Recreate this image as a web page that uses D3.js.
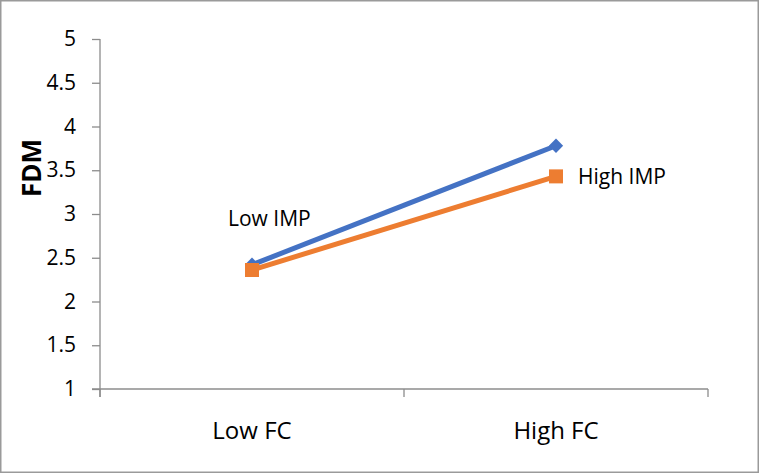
<!DOCTYPE html>
<html>
<head>
<meta charset="utf-8">
<script src="https://cdn.jsdelivr.net/npm/d3@7"></script>
<style>
  body { margin: 0; background: #fff; }
  text { font-family: "Open Sans", "Liberation Sans", sans-serif; fill: #000; }
  .axis path, .axis line { stroke: #8c8c8c; stroke-width: 1.3; }
</style>
</head>
<body>
<div class="chart-box"></div>
<script>
let width = 759;
let height = 473;

let categories = ["Low FC", "High FC"];
let yTicks = [1, 1.5, 2, 2.5, 3, 3.5, 4, 4.5, 5];
let lowImp = [2.42, 3.78];
let highImp = [2.36, 3.43];
let seriesNames = ["Low IMP", "High IMP"];

let svg = d3.select('.chart-box')
  .append('svg')
  .attr('width', width)
  .attr('height', height);

svg.append("rect")
  .attr("x", 0.75).attr("y", 0.75)
  .attr("width", width - 1.5).attr("height", height - 1.5)
  .attr("fill", "#fff")
  .attr("stroke", "#9a9a9a")
  .attr("stroke-width", 1.5);

let plotL = 100, plotR = 708, plotT = 39, plotB = 389;

let x = d3.scaleBand()
  .domain(categories)
  .range([plotL, plotR]);

let y = d3.scaleLinear()
  .domain([1, 5])
  .range([plotB, plotT]);

// y axis
let yAxis = svg.append("g")
  .attr("class", "axis")
  .attr("transform", `translate(${plotL},0)`)
  .call(d3.axisLeft(y).tickValues(yTicks).tickSize(8).tickSizeOuter(0).tickFormat(d3.format("")));
yAxis.select(".domain").attr("d", `M0,${plotT}V${plotB + 8}`);
yAxis.selectAll("text").style("font-size", "21px").attr("x", -24);

// x axis
let xAxis = svg.append("g")
  .attr("class", "axis")
  .attr("transform", `translate(0,${plotB})`)
  .call(d3.axisBottom(x).tickSize(0).tickSizeOuter(0));
xAxis.select(".domain").attr("d", `M${plotL - 8},0H${plotR}`);
xAxis.selectAll("text").style("font-size", "24px").attr("dy", 0).attr("y", 50);
xAxis.selectAll(".sep")
  .data([plotL, (plotL + plotR) / 2, plotR])
  .enter().append("line")
  .attr("x1", d => d).attr("x2", d => d)
  .attr("y1", 0).attr("y2", 8);

svg.append("text")
  .attr("transform", `translate(41,${(plotT + plotB) / 2 - 46}) rotate(-90)`)
  .attr("text-anchor", "middle")
  .style("font-size", "26px")
  .style("font-weight", "bold")
  .text("FDM");

let cx = d => x(d) + x.bandwidth() / 2;
let line = d3.line().x((d, i) => cx(categories[i])).y(d => y(d));

svg.append("path")
  .datum(lowImp)
  .attr("d", line)
  .attr("fill", "none")
  .attr("stroke", "#4472C4")
  .attr("stroke-width", 5);

svg.selectAll(".diamond")
  .data(lowImp)
  .enter().append("path")
  .attr("d", d3.symbol(d3.symbolDiamond2, 130))
  .attr("transform", (d, i) => `translate(${cx(categories[i])},${y(d)})`)
  .attr("fill", "#4472C4");

svg.append("path")
  .datum(highImp)
  .attr("d", line)
  .attr("fill", "none")
  .attr("stroke", "#ED7D31")
  .attr("stroke-width", 5);

svg.selectAll(".square")
  .data(highImp)
  .enter().append("rect")
  .attr("x", (d, i) => cx(categories[i]) - 7)
  .attr("y", d => y(d) - 7)
  .attr("width", 14).attr("height", 14)
  .attr("fill", "#ED7D31");

svg.append("text")
  .attr("x", cx(categories[0]) - 24)
  .attr("y", y(lowImp[0]) - 39)
  .style("font-size", "21px")
  .text(seriesNames[0]);

svg.append("text")
  .attr("x", cx(categories[1]) + 22)
  .attr("y", y(highImp[1]) + 8)
  .style("font-size", "21px")
  .text(seriesNames[1]);
</script>
</body>
</html>
